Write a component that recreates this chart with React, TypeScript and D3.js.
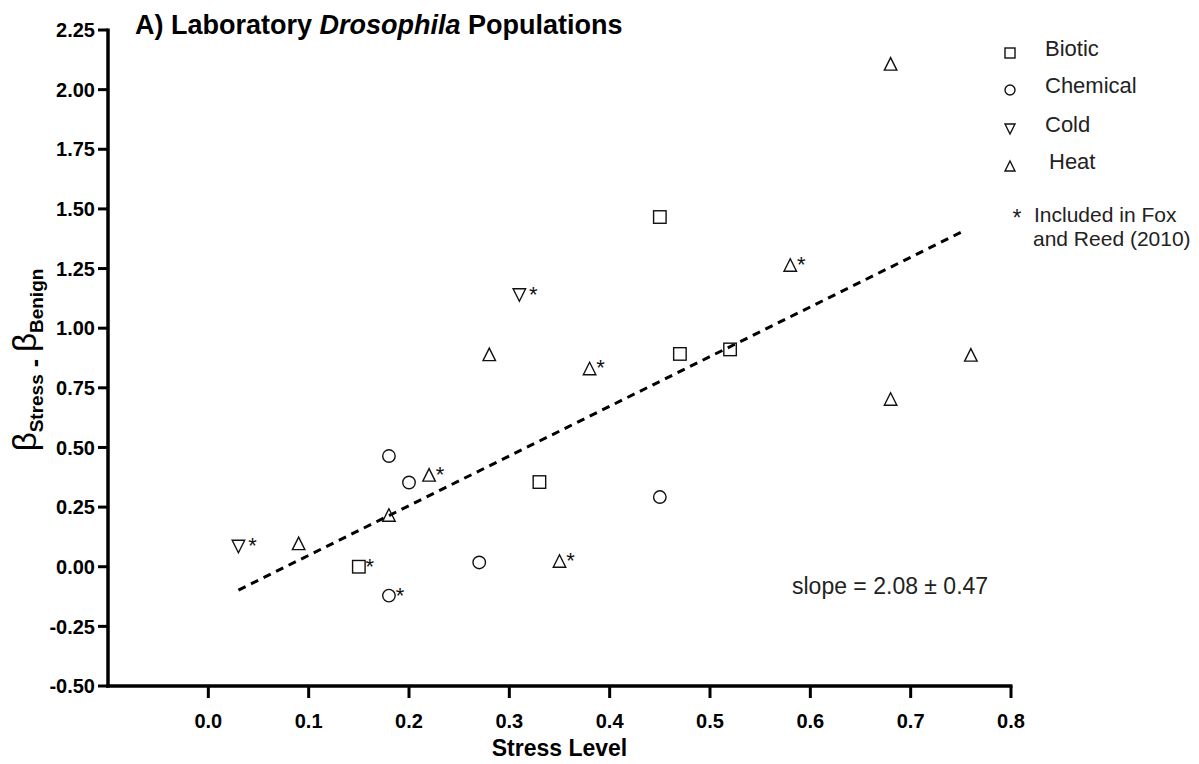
import React from "react";
import * as d3 from "d3";

// ---- data ----
const xTicks = [0.0, 0.1, 0.2, 0.3, 0.4, 0.5, 0.6, 0.7, 0.8];
const yTicks = [-0.5, -0.25, 0.0, 0.25, 0.5, 0.75, 1.0, 1.25, 1.5, 1.75, 2.0, 2.25];

// [stress level, beta difference, included in Fox & Reed (2010)]
const biotic: [number, number, boolean][] = [
  [0.15, 0.0, true],
  [0.33, 0.355, false],
  [0.45, 1.466, false],
  [0.47, 0.892, false],
  [0.52, 0.911, false],
];
const chemical: [number, number, boolean][] = [
  [0.18, 0.464, false],
  [0.20, 0.353, false],
  [0.27, 0.018, false],
  [0.45, 0.292, false],
  [0.18, -0.121, true],
];
const cold: [number, number, boolean][] = [
  [0.03, 0.085, true],
  [0.31, 1.139, true],
];
const heat: [number, number, boolean][] = [
  [0.09, 0.098, false],
  [0.18, 0.217, false],
  [0.22, 0.385, true],
  [0.28, 0.89, false],
  [0.35, 0.024, true],
  [0.38, 0.831, true],
  [0.58, 1.265, true],
  [0.68, 2.108, false],
  [0.68, 0.703, false],
  [0.76, 0.888, false],
];
const fitLine: [number, number][] = [
  [0.03, -0.098],
  [0.755, 1.412],
];
const legendLabels = ["Biotic", "Chemical", "Cold", "Heat"];
const slopeText = "slope = 2.08 ± 0.47";

const FONT = "'Liberation Sans', Arial, Helvetica, sans-serif";

type Shape = "square" | "circle" | "down" | "up";

function Marker({ shape, cx, cy, s }: { shape: Shape; cx: number; cy: number; s: number }) {
  const h = s / 2;
  const common = { fill: "none", stroke: "#111", strokeWidth: 1.4 };
  if (shape === "square") return <rect x={cx - h} y={cy - h} width={s} height={s} {...common} />;
  if (shape === "circle") return <circle cx={cx} cy={cy} r={h} {...common} />;
  if (shape === "up")
    return <path d={`M${cx},${cy - h}L${cx + h},${cy + h}L${cx - h},${cy + h}Z`} {...common} />;
  return <path d={`M${cx - h},${cy - h}L${cx + h},${cy - h}L${cx},${cy + h}Z`} {...common} />;
}

export default function App() {
  const x = d3.scaleLinear().domain([-0.1, 0.8]).range([108, 1011]);
  const y = d3.scaleLinear().domain([-0.5, 2.25]).range([686, 30]);
  const line = d3
    .line<[number, number]>()
    .x((d) => x(d[0]))
    .y((d) => y(d[1]));

  const series: { shape: Shape; data: [number, number, boolean][] }[] = [
    { shape: "square", data: biotic },
    { shape: "circle", data: chemical },
    { shape: "down", data: cold },
    { shape: "up", data: heat },
  ];

  const legendY = [53, 90, 129, 166];

  return (
    <svg
      width={1199}
      height={764}
      style={{ position: "absolute", left: 0, top: 0, background: "#fff" }}
      fontFamily={FONT}
    >
      <rect x={0} y={0} width={1199} height={764} fill="#fff" />
      {/* title */}
      <text x={135} y={34} fontSize={27} fontWeight="bold" fill="#000">
        A) Laboratory <tspan fontStyle="italic">Drosophila</tspan> Populations
      </text>

      {/* y axis */}
      <line x1={108} x2={108} y1={y(2.25) - 1.5} y2={y(-0.5) + 1.5} stroke="#000" strokeWidth={3.5} />
      {yTicks.map((t) => (
        <g key={t}>
          <line x1={98} x2={108} y1={y(t)} y2={y(t)} stroke="#000" strokeWidth={3} />
          <text x={95} y={y(t)} dy="0.36em" textAnchor="end" fontSize={20} fontWeight="bold">
            {t.toFixed(2)}
          </text>
        </g>
      ))}
      {/* x axis */}
      <line x1={106} x2={x(0.8) + 1.5} y1={686} y2={686} stroke="#000" strokeWidth={3.5} />
      {xTicks.map((t) => (
        <g key={t}>
          <line x1={x(t)} x2={x(t)} y1={686} y2={698} stroke="#000" strokeWidth={3} />
          <text x={x(t)} y={728} textAnchor="middle" fontSize={20} fontWeight="bold">
            {t.toFixed(1)}
          </text>
        </g>
      ))}
      <text x={(108 + 1011) / 2} y={756} textAnchor="middle" fontSize={23} fontWeight="bold">
        Stress Level
      </text>

      {/* y axis title */}
      <text transform="translate(36,360) rotate(-90)" textAnchor="middle" fill="#000">
        <tspan fontSize={33}>β</tspan>
        <tspan fontSize={19} fontWeight="bold" dy={7}>Stress</tspan>
        <tspan fontSize={25} fontWeight="bold"> - </tspan>
        <tspan fontSize={33} dy={-7}>β</tspan>
        <tspan fontSize={19} fontWeight="bold" dy={7}>Benign</tspan>
      </text>

      {/* regression line */}
      <path
        d={line(fitLine) || ""}
        fill="none"
        stroke="#000"
        strokeWidth={3}
        strokeDasharray="8,6"
      />

      {/* points */}
      {series.map((s) =>
        s.data.map((d, i) => (
          <g key={s.shape + i}>
            <Marker shape={s.shape} cx={x(d[0])} cy={y(d[1])} s={12.5} />
            {d[2] && (
              <text
                x={x(d[0]) + (s.shape === "down" ? 14 : 11)}
                y={y(d[1]) + 7}
                textAnchor="middle"
                fontSize={22}
                fill="#111"
              >
                *
              </text>
            )}
          </g>
        ))
      )}

      {/* slope annotation */}
      <text x={792} y={594} fontSize={23} fill="#222">
        {slopeText}
      </text>

      {/* legend */}
      {series.map((s, i) => (
        <g key={"lg" + i}>
          <Marker shape={s.shape} cx={1010} cy={legendY[i]} s={10} />
          <text x={i === 3 ? 1049 : 1045} y={legendY[i] + 3} fontSize={22} fill="#222">
            {legendLabels[i]}
          </text>
        </g>
      ))}
      <text x={1017} y={226} textAnchor="middle" fontSize={23} fill="#222">
        *
      </text>
      <text x={1034} y={222} fontSize={21} fill="#222">
        Included in Fox
      </text>
      <text x={1033} y={246} fontSize={21} fill="#222">
        and Reed (2010)
      </text>
    </svg>
  );
}
